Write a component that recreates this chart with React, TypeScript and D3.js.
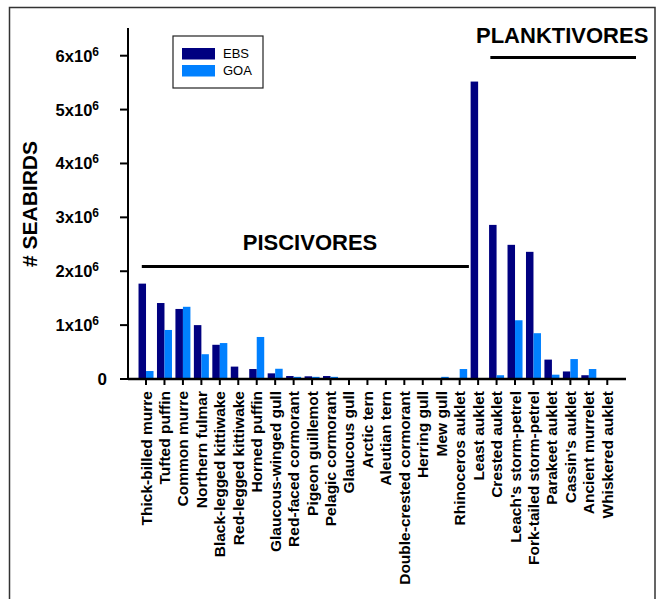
import { scaleBand, scaleLinear } from 'd3'

const categories = [
  'Thick-billed murre', 'Tufted puffin', 'Common murre', 'Northern fulmar',
  'Black-legged kittiwake', 'Red-legged kittiwake', 'Horned puffin',
  'Glaucous-winged gull', 'Red-faced cormorant', 'Pigeon guillemot',
  'Pelagic cormorant', 'Glaucous gull', 'Arctic tern', 'Aleutian tern',
  'Double-crested cormorant', 'Herring gull', 'Mew gull', 'Rhinoceros auklet',
  'Least auklet', 'Crested auklet', "Leach's storm-petrel",
  'Fork-tailed storm-petrel', 'Parakeet auklet', "Cassin's auklet",
  'Ancient murrelet', 'Whiskered auklet'
]

// millions of birds
const ebs = [
  1.77, 1.41, 1.30, 1.00, 0.635, 0.23, 0.185, 0.105, 0.055, 0.05, 0.055, 0.005,
  0, 0, 0, 0, 0, 0.01, 5.52, 2.86, 2.49, 2.36, 0.36, 0.14, 0.07, 0
]
const goa = [
  0.148, 0.91, 1.34, 0.46, 0.667, 0, 0.78, 0.19, 0.04, 0.04, 0.04, 0.005,
  0, 0, 0, 0, 0.04, 0.185, 0, 0.07, 1.09, 0.85, 0.08, 0.37, 0.185, 0
]
const series = ['EBS', 'GOA']
const yTicks = [0, 1, 2, 3, 4, 5, 6]

const colors = { EBS: '#000080', GOA: '#0080ff' }
const font = '"Liberation Sans", Arial, sans-serif'

const x0 = 128, yBase = 379

export default function App() {
  const x = scaleBand().domain(categories).range([136.8, 616.5]).padding(0)
  const xs = scaleBand().domain(series).range([0, x.bandwidth()]).paddingOuter(0.23)
  const y = scaleLinear().domain([0, 6]).range([yBase, 55.7])

  const rows = categories.map((c, i) => ({ c, EBS: ebs[i], GOA: goa[i] }))

  return (
    <svg width={665} height={599}
      style={{ position: 'absolute', left: 0, top: 0, background: '#fff', fontFamily: font }}>
      {/* outer frame */}
      <rect x={9.5} y={7.5} width={645.5} height={620} fill='none' stroke='#333' strokeWidth={1.5} />

      {/* bars */}
      <g className='bars'>
        {rows.map(r => series.map(s => (
          <rect key={r.c + s}
            x={x(r.c)! + xs(s)!}
            y={y(r[s])}
            width={xs.bandwidth()}
            height={yBase - y(r[s])}
            fill={colors[s]} />
        )))}
      </g>

      {/* y axis */}
      <g className='axis left'>
        <line x1={x0} x2={x0} y1={28} y2={yBase} stroke='#000' strokeWidth={2} />
        {yTicks.map(t => (
          <g key={t} transform={`translate(0, ${y(t)})`}>
            <line x1={120} x2={x0} stroke='#000' strokeWidth={2} />
            {t === 0
              ? <text x={107} dy='0.36em' textAnchor='end' fontSize={17} fontWeight='bold'>0</text>
              : <text x={99} dy='0.36em' textAnchor='end' fontSize={16.5} fontWeight='bold'>
                  {t}x10<tspan fontSize={12} dy='-0.5em'>6</tspan>
                </text>}
          </g>
        ))}
      </g>

      {/* x axis */}
      <g className='axis bottom'>
        <line x1={x0} x2={626} y1={yBase} y2={yBase} stroke='#000' strokeWidth={2.5} />
        {categories.map(c => {
          const cx = x(c)! + x.bandwidth() / 2
          return (
            <g key={c} transform={`translate(${cx}, 0)`}>
              <line y1={yBase} y2={385} stroke='#000' strokeWidth={2} />
              <text transform={`translate(5.5, 391) rotate(-90)`} textAnchor='end'
                fontSize={15.5} fontWeight='bold'>{c}</text>
            </g>
          )
        })}
      </g>

      <text transform='translate(37, 204) rotate(-90)' textAnchor='middle'
        fontSize={21} fontWeight='bold'># SEABIRDS</text>

      {/* group annotations */}
      <line x1={x(categories[0])! + 5} x2={x('Least auklet')!} y1={266.5} y2={266.5}
        stroke='#000' strokeWidth={3} />
      <text x={310} y={250} textAnchor='middle' fontSize={22} fontWeight='bold'>PISCIVORES</text>
      <line x1={x('Crested auklet')! + 3} x2={636} y1={57.5} y2={57.5}
        stroke='#000' strokeWidth={3} />
      <text x={476} y={43} fontSize={22} fontWeight='bold'>PLANKTIVORES</text>

      {/* legend */}
      <g className='legend'>
        <rect x={173} y={36} width={90} height={52} fill='#fff' stroke='#222' strokeWidth={1.2} />
        {series.map((s, i) => (
          <g key={s} transform={`translate(182, ${48 + i * 17})`}>
            <rect width={33} height={11.5} fill={colors[s]} />
            <text x={41} y={10} fontSize={13}>{s}</text>
          </g>
        ))}
      </g>
    </svg>
  )
}
